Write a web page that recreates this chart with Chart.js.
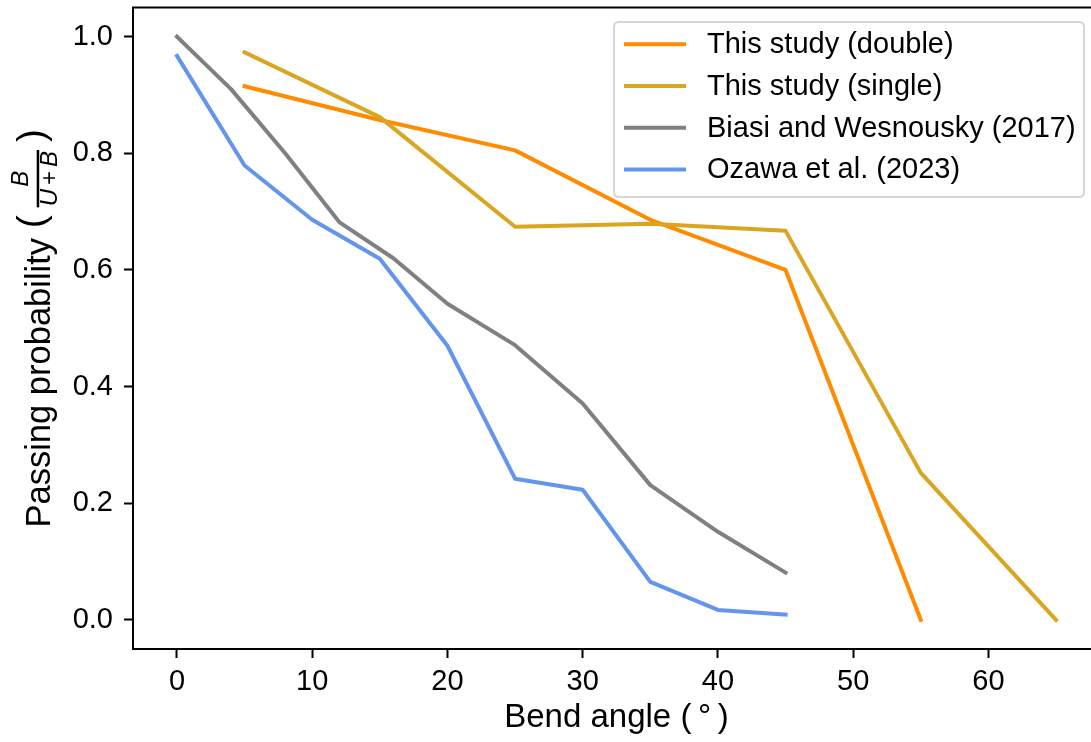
<!DOCTYPE html>
<html><head><meta charset="utf-8">
<script src="https://cdn.jsdelivr.net/npm/chart.js@4/dist/chart.umd.min.js"></script>
<style>html,body{margin:0;padding:0;overflow:hidden;background:#fff}#wrap{width:1102px;height:742px}</style>
</head><body><div id="wrap"><canvas id="c" width="1102" height="742"></canvas></div>
<script>
// ---- data ----
const xDouble = [5, 15, 25, 35, 45, 55];
const yDouble = [0.915, 0.857, 0.805, 0.686, 0.600, 0.0];
const xSingle = [5, 15, 25, 35, 45, 55, 65];
const ySingle = [0.973, 0.862, 0.674, 0.679, 0.667, 0.252, 0.0];
const xBiasi = [0, 4, 8, 12, 16, 20, 25, 30, 35, 40, 45];
const yBiasi = [1.0, 0.91, 0.80, 0.682, 0.62, 0.542, 0.471, 0.371, 0.231, 0.151, 0.081];
const xOzawa = [0, 5, 10, 15, 20, 25, 30, 35, 40, 45];
const yOzawa = [0.967, 0.779, 0.686, 0.619, 0.47, 0.242, 0.223, 0.065, 0.017, 0.009];
const seriesLabels = ['This study (double)', 'This study (single)', 'Biasi and Wesnousky (2017)', 'Ozawa et al. (2023)'];
const xTicks = [0, 10, 20, 30, 40, 50, 60];
const yTicks = [0, 0.2, 0.4, 0.6, 0.8, 1.0];
const xTitle = 'Bend angle (\u2009°\u2009)';
const yTitleMain = 'Passing probability ';
const yFracNum = 'B';
const yFracDen = ['U', '+', 'B'];

// ---- styles ----
const FF = '"Liberation Sans", Arial, Helvetica, sans-serif';
const colors = ['#FF8C00', '#DAA520', '#808080', '#6495ED'];
const pts = (xs, ys) => xs.map((x, i) => ({x: x, y: ys[i]}));
const seriesData = [pts(xDouble, yDouble), pts(xSingle, ySingle), pts(xBiasi, yBiasi), pts(xOzawa, yOzawa)];

const framePlugin = {
  id: 'frame',
  afterDatasetsDraw(chart) {
    const {ctx, chartArea: a} = chart;
    ctx.save();
    ctx.strokeStyle = '#000'; ctx.lineWidth = 2;
    ctx.strokeRect(a.left, a.top, a.right - a.left, a.bottom - a.top);
    ctx.restore();
  }
};

const legendPlugin = {
  id: 'mplLegend',
  afterDraw(chart) {
    const ctx = chart.ctx;
    const bx = 614, by = 22, bw = 470, bh = 175, r = 5;
    ctx.save();
    ctx.beginPath();
    ctx.moveTo(bx + r, by); ctx.lineTo(bx + bw - r, by); ctx.quadraticCurveTo(bx + bw, by, bx + bw, by + r);
    ctx.lineTo(bx + bw, by + bh - r); ctx.quadraticCurveTo(bx + bw, by + bh, bx + bw - r, by + bh);
    ctx.lineTo(bx + r, by + bh); ctx.quadraticCurveTo(bx, by + bh, bx, by + bh - r);
    ctx.lineTo(bx, by + r); ctx.quadraticCurveTo(bx, by, bx + r, by);
    ctx.closePath();
    ctx.fillStyle = 'rgba(255,255,255,0.8)'; ctx.fill();
    ctx.strokeStyle = '#d6d6d6'; ctx.lineWidth = 2; ctx.stroke();
    ctx.font = '29px ' + FF; ctx.textBaseline = 'middle'; ctx.textAlign = 'left'; ctx.fillStyle = '#000';
    chart.data.datasets.forEach((ds, i) => {
      const y = 44.3 + i * 41.7;
      ctx.strokeStyle = ds.borderColor; ctx.lineWidth = 4; ctx.lineCap = 'butt';
      ctx.beginPath(); ctx.moveTo(624, y); ctx.lineTo(686, y); ctx.stroke();
      ctx.fillText(ds.label, 707, y + 1);
    });
    ctx.restore();
  }
};

const yTitlePlugin = {
  id: 'yTitle',
  afterDraw(chart) {
    const ctx = chart.ctx, a = chart.chartArea;
    const cy = (a.top + a.bottom) / 2, bx = 50;
    const mainFont = '34.5px ' + FF, parFont = '39px ' + FF, itFont = 'italic 24px ' + FF, upFont = '24px ' + FF;
    ctx.save();
    ctx.translate(bx, cy); ctx.rotate(-Math.PI / 2);
    ctx.fillStyle = '#000'; ctx.textBaseline = 'alphabetic'; ctx.textAlign = 'left';
    ctx.font = mainFont; const wMain = ctx.measureText(yTitleMain).width;
    ctx.font = parFont; const wPar = ctx.measureText('(').width;
    ctx.font = itFont; const wU = ctx.measureText(yFracDen[0]).width, wB = ctx.measureText(yFracDen[2]).width, wN = ctx.measureText(yFracNum).width;
    ctx.font = upFont; const wPlus = ctx.measureText(yFracDen[1]).width + 8;
    const wDen = wU + wPlus + wB, gap = 9, fracW = wDen + 2 * gap;
    const total = wMain + wPar + fracW + wPar;
    let u = -total / 2;
    ctx.font = mainFont; ctx.fillText(yTitleMain, u, 0); u += wMain;
    ctx.font = parFont; ctx.fillText('(', u, -6); u += wPar;
    const fx = u + gap;
    ctx.font = itFont; ctx.fillText(yFracNum, fx + (wDen - wN) / 2, -22);
    ctx.fillRect(fx - 1, -13.3, wDen + 2, 2.5);
    ctx.fillText(yFracDen[0], fx, 7);
    ctx.font = upFont; ctx.fillText(yFracDen[1], fx + wU + 4, 7);
    ctx.font = itFont; ctx.fillText(yFracDen[2], fx + wU + wPlus, 7);
    u += fracW;
    ctx.font = parFont; ctx.fillText(')', u, -6);
    ctx.restore();
  }
};

new Chart(document.getElementById('c'), {
  type: 'line',
  data: {
    datasets: seriesData.map((d, i) => ({
      label: seriesLabels[i], data: d, borderColor: colors[i], backgroundColor: colors[i],
      borderWidth: 4, pointRadius: 0, tension: 0, fill: false,
      borderCapStyle: 'square', borderJoinStyle: 'round', order: 4 - i
    }))
  },
  options: {
    responsive: false, animation: false, devicePixelRatio: 1, events: [],
    layout: {padding: {top: 7.5, right: 2, bottom: 0, left: 0}},
    plugins: {legend: {display: false}, tooltip: {enabled: false}},
    scales: {
      x: {
        type: 'linear', min: -3.25, max: 68.25,
        afterBuildTicks: s => { s.ticks = xTicks.map(v => ({value: v})); },
        afterFit: s => { s.height = 93; s.paddingLeft = 0; s.paddingRight = 0; },
        grid: {display: true, drawOnChartArea: false, drawTicks: true, tickLength: 9, tickWidth: 2, tickColor: '#000'},
        border: {display: true, color: '#000', width: 2},
        ticks: {color: '#000', font: {family: FF, size: 29}, padding: 7, autoSkip: false, maxRotation: 0, callback: v => String(v)},
        title: {display: true, text: xTitle, color: '#000', font: {family: FF, size: 33, lineHeight: 1}, padding: {top: 0, bottom: 8}}
      },
      y: {
        type: 'linear', min: -0.05, max: 1.05,
        afterBuildTicks: s => { s.ticks = yTicks.map(v => ({value: v})); },
        afterFit: s => { s.width = 133; s.paddingTop = 0; s.paddingBottom = 0; },
        grid: {display: true, drawOnChartArea: false, drawTicks: true, tickLength: 9, tickWidth: 2, tickColor: '#000'},
        border: {display: true, color: '#000', width: 2},
        ticks: {color: '#000', font: {family: FF, size: 29}, padding: 11, callback: v => v.toFixed(1)},
        title: {display: false}
      }
    }
  },
  plugins: [framePlugin, legendPlugin, yTitlePlugin]
});
</script></body></html>
